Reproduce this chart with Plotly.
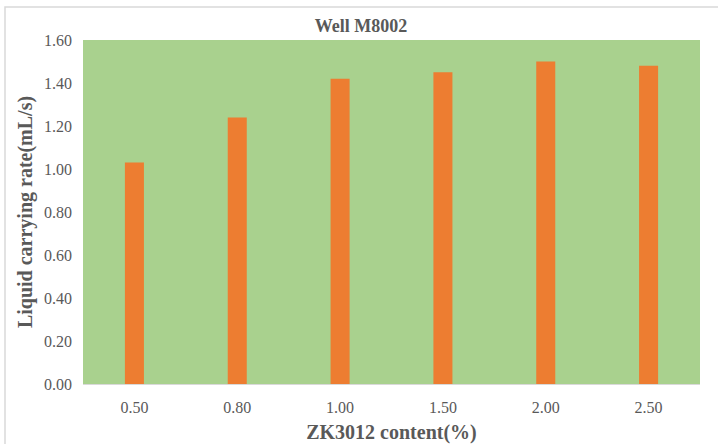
import plotly.graph_objects as go

categories = ["0.50", "0.80", "1.00", "1.50", "2.00", "2.50"]
values = [1.03, 1.24, 1.42, 1.45, 1.50, 1.48]
y_ticks = [0, 0.2, 0.4, 0.6, 0.8, 1.0, 1.2, 1.4, 1.6]
y_tick_text = ["0.00", "0.20", "0.40", "0.60", "0.80", "1.00", "1.20", "1.40", "1.60"]

W, H = 718, 444
L, R, T, B = 83, 18, 40, 60

fig = go.Figure()
fig.add_trace(go.Bar(x=categories, y=values, marker=dict(color="#ED7D31", line=dict(width=0)), width=0.185))

font_family = "Liberation Serif"
fig.update_layout(
    width=W, height=H,
    margin=dict(l=L, r=R, t=T, b=B),
    paper_bgcolor="white",
    plot_bgcolor="#A9D18E",
    showlegend=False,
    title=dict(text="<b>Well M8002</b>", x=361 / W, xanchor="center",
               y=1 - 26 / H, yanchor="middle",
               font=dict(family=font_family, size=18, color="#595959")),
    font=dict(family=font_family, color="#595959"),
)
fig.update_xaxes(
    type="category", automargin=False,
    showgrid=False, showline=True, linecolor="#D9D9D9", linewidth=1,
    tickfont=dict(family=font_family, size=16, color="#595959"),
    ticks="", ticklabelstandoff=9,
    title=dict(text="<b>ZK3012 content(%)</b>", font=dict(family=font_family, size=20, color="#595959"), standoff=9),
)
fig.update_yaxes(
    range=[0, 1.6], tickvals=y_ticks, ticktext=y_tick_text, automargin=False,
    showgrid=False, zeroline=False, showline=False,
    tickfont=dict(family=font_family, size=16, color="#595959"),
    ticks="", ticklabelstandoff=10,
    title=dict(text="<b>Liquid carrying rate(mL/s)</b>", font=dict(family=font_family, size=20, color="#595959"), standoff=6),
)
# outer chart border
fig.add_shape(type="rect", xref="paper", yref="paper",
              x0=(5 - L) / (W - L - R), x1=(W + 5 - L) / (W - L - R),
              y0=-(B + 10) / (H - T - B), y1=1 + (T - 7) / (H - T - B),
              line=dict(color="#D9D9D9", width=1.5), fillcolor="rgba(0,0,0,0)", layer="below")

fig.write_html("out.html")
